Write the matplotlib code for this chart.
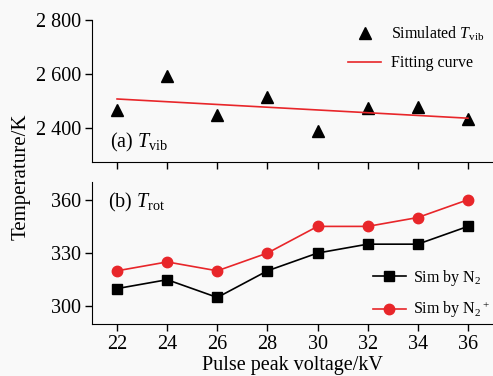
import numpy as np
import matplotlib
matplotlib.use('Agg')
import matplotlib.pyplot as plt

plt.rcParams['font.family'] = 'Liberation Serif'
plt.rcParams['mathtext.fontset'] = 'custom'
plt.rcParams['mathtext.rm'] = 'Liberation Serif'
plt.rcParams['mathtext.it'] = 'Liberation Serif:italic'

voltage = [22, 24, 26, 28, 30, 32, 34, 36]
t_vib = [2467, 2594, 2448, 2516, 2390, 2474, 2478, 2433]
fit_x = [22, 36]
fit_y = [2508, 2437]
t_rot_n2 = [310, 315, 305, 320, 330, 335, 335, 345]
t_rot_n2p = [320, 325, 320, 330, 345, 345, 350, 360]

fs = 14.5
fs_leg = 11.5
bg = '#f9f9f9'
red = '#e8262a'
fig = plt.figure(figsize=(4.93, 3.76), dpi=100, facecolor=bg)

ax1 = fig.add_axes([0.1866, 0.569, 0.8134, 0.378], facecolor=bg)
ax2 = fig.add_axes([0.1866, 0.138, 0.8134, 0.378], facecolor=bg)

for ax in (ax1, ax2):
    ax.spines['top'].set_visible(False)
    ax.spines['right'].set_visible(False)
    ax.set_xlim(21, 37)
    ax.set_xticks(voltage)
    ax.tick_params(direction='out', length=5, width=1, labelsize=fs, pad=3)

# (a) vibrational temperature
ax1.plot(voltage, t_vib, '^', color='k', markersize=9, linestyle='none',
         label=r'Simulated $T_{\rm vib}$')
ax1.plot(fit_x, fit_y, '-', color=red, linewidth=1.2, label='Fitting curve')
ax1.set_ylim(2275, 2800)
ax1.set_yticks([2400, 2600, 2800])
ax1.set_yticklabels(['2 400', '2 600', '2 800'])
ax1.tick_params(axis='x', labelbottom=False)
ax1.text(0.045, 0.1, r'(a) $T_{\rm vib}$', transform=ax1.transAxes, fontsize=fs)
ax1.legend(loc='upper right', bbox_to_anchor=(1.015, 1.065), frameon=False,
           fontsize=fs_leg, handlelength=2.1, handletextpad=0.6, labelspacing=0.75)

# (b) rotational temperature
ax2.plot(voltage, t_rot_n2, '-s', color='k', markersize=6.5, linewidth=1.2,
         label=r'Sim by N$_2$')
ax2.plot(voltage, t_rot_n2p, '-o', color=red, markersize=7.5, linewidth=1.2,
         label=r'Sim by N$_2$$^+$')
ax2.set_ylim(290, 370)
ax2.set_yticks([300, 330, 360])
ax2.text(0.04, 0.82, r'(b) $T_{\rm rot}$', transform=ax2.transAxes, fontsize=fs)
ax2.legend(loc='lower right', bbox_to_anchor=(1.027, -0.074), frameon=False,
           fontsize=fs_leg, handlelength=2.1, handletextpad=0.4, labelspacing=0.75)
ax2.set_xlabel('Pulse peak voltage/kV', fontsize=fs, labelpad=1)

fig.text(0.043, 0.529, 'Temperature/K', rotation=90, ha='center', va='center', fontsize=15)

plt.savefig('out.png', dpi=100, facecolor=bg)
